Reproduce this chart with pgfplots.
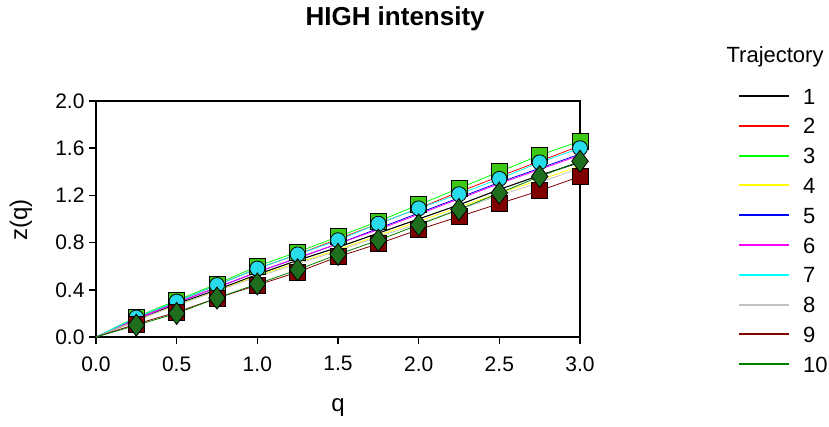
\documentclass[border=0pt]{standalone}
\usepackage{fontspec}
\setmainfont{Liberation Sans}
\usepackage{pgfplots}
\pgfplotsset{compat=1.18}
\definecolor{c1}{RGB}{0,0,0}
\definecolor{c2}{RGB}{255,0,0}
\definecolor{c3}{RGB}{0,255,0}
\definecolor{c4}{RGB}{255,255,0}
\definecolor{c5}{RGB}{0,0,255}
\definecolor{c6}{RGB}{255,0,255}
\definecolor{c7}{RGB}{0,255,255}
\definecolor{c8}{RGB}{192,192,192}
\definecolor{c9}{RGB}{128,0,0}
\definecolor{c10}{RGB}{0,128,0}
\definecolor{sqgreen}{RGB}{60,200,20}
\definecolor{dgreen}{RGB}{30,110,30}
\definecolor{circ}{RGB}{40,220,235}
\begin{document}
\begin{tikzpicture}[x=1pt,y=1pt]
\useasboundingbox (0,0) rectangle (829,-427);
\begin{axis}[
  at={(96pt,-337pt)}, anchor=south west,
  scale only axis, width=484pt, height=236pt,
  xmin=0, xmax=3, ymin=0, ymax=2,
  xtick={0,0.5,1,1.5,2,2.5,3},
  ytick={0,0.4,0.8,1.2,1.6,2.0},
  tick pos=left, tick align=outside, major tick length=7pt,
  axis line style={line width=1.5pt},
  every tick/.style={black, line width=1.5pt},
  tick label style={font=\fontsize{21}{21}\selectfont},
  xticklabel style={yshift=-9pt},
  yticklabel style={xshift=-1pt},
  /pgf/number format/.cd, fixed, fixed zerofill, precision=1, assume math mode=true, /pgfplots/.cd,
  clip=false,
  title={HIGH intensity},
  title style={at={(axis description cs:0.618,1.322)}, anchor=center, font=\fontsize{26}{26}\selectfont\bfseries},
  xlabel={q},
  xlabel style={at={(axis description cs:0.5,-0.30)}, anchor=center, font=\fontsize{24}{24}\selectfont},
  ylabel={z(q)},
  ylabel style={at={(axis description cs:-0.155,0.496)}, anchor=center, font=\fontsize{24}{24}\selectfont},
  legend style={at={(axis description cs:1.32,1.064)}, anchor=north west, draw=none, fill=none,
    font=\fontsize{22}{22}\selectfont, row sep=13.8pt, column sep=13pt,
    nodes={inner sep=0pt, text height=16pt, text depth=0pt}},
  legend cell align=left,
  legend image code/.code={\path[draw=none,fill=none] (0pt,-8pt) -- (0pt,8pt);\draw[#1, mark=none, line width=2pt] (0pt,0pt) -- (50pt,0pt);},
  every axis plot/.append style={line width=0.8pt},
]
\addplot[c1, line width=1.1pt] coordinates {(0,0)(0.25,0.14)(0.5,0.28)(0.75,0.40)(1,0.53)(1.25,0.65)(1.5,0.76)(1.75,0.88)(2,1.00)(2.25,1.12)(2.5,1.25)(2.75,1.37)(3,1.48)};
\addlegendentry{1}
\addplot[c2] coordinates {(0,0)(0.25,0.16)(0.5,0.30)(0.75,0.44)(1,0.58)(1.25,0.70)(1.5,0.83)(1.75,0.96)(2,1.09)(2.25,1.23)(2.5,1.36)(2.75,1.49)(3,1.62)};
\addlegendentry{2}
\addplot[c3, mark=square*, mark phase=2, mark repeat=1, mark size=8pt, mark options={fill=sqgreen, draw=black, line width=0.8pt}] coordinates {(0,0)(0.25,0.17)(0.5,0.31)(0.75,0.45)(1,0.60)(1.25,0.72)(1.5,0.85)(1.75,0.98)(2,1.12)(2.25,1.26)(2.5,1.40)(2.75,1.54)(3,1.66)};
\addlegendentry{3}
\addplot[c4] coordinates {(0,0)(0.25,0.14)(0.5,0.27)(0.75,0.39)(1,0.52)(1.25,0.63)(1.5,0.74)(1.75,0.86)(2,0.98)(2.25,1.10)(2.5,1.22)(2.75,1.33)(3,1.45)};
\addlegendentry{4}
\addplot[c5] coordinates {(0,0)(0.25,0.15)(0.5,0.29)(0.75,0.42)(1,0.55)(1.25,0.67)(1.5,0.79)(1.75,0.92)(2,1.05)(2.25,1.18)(2.5,1.31)(2.75,1.43)(3,1.55)};
\addlegendentry{5}
\addplot[c6] coordinates {(0,0)(0.25,0.15)(0.5,0.29)(0.75,0.42)(1,0.55)(1.25,0.67)(1.5,0.79)(1.75,0.91)(2,1.04)(2.25,1.17)(2.5,1.30)(2.75,1.42)(3,1.54)};
\addlegendentry{6}
\addplot[c7, mark=*, mark phase=2, mark repeat=1, mark size=7.5pt, mark options={fill=circ, draw=black, line width=0.8pt}] coordinates {(0,0)(0.25,0.165)(0.5,0.30)(0.75,0.44)(1,0.58)(1.25,0.70)(1.5,0.82)(1.75,0.96)(2,1.09)(2.25,1.21)(2.5,1.34)(2.75,1.48)(3,1.60)};
\addlegendentry{7}
\addplot[c8] coordinates {(0,0)(0.25,0.14)(0.5,0.27)(0.75,0.39)(1,0.51)(1.25,0.62)(1.5,0.73)(1.75,0.85)(2,0.96)(2.25,1.08)(2.5,1.20)(2.75,1.31)(3,1.43)};
\addlegendentry{8}
\addplot[c9, mark=square*, mark phase=2, mark repeat=1, mark size=8pt, mark options={fill=c9, draw=black, line width=0.8pt}] coordinates {(0,0)(0.25,0.11)(0.5,0.21)(0.75,0.33)(1,0.44)(1.25,0.55)(1.5,0.68)(1.75,0.79)(2,0.91)(2.25,1.02)(2.5,1.13)(2.75,1.24)(3,1.36)};
\addlegendentry{9}
\addplot[c10, mark=diamond*, mark phase=2, mark repeat=1, mark size=11pt, mark options={fill=dgreen, draw=black, line width=0.8pt}] coordinates {(0,0)(0.25,0.10)(0.5,0.20)(0.75,0.33)(1,0.45)(1.25,0.57)(1.5,0.70)(1.75,0.82)(2,0.95)(2.25,1.08)(2.5,1.22)(2.75,1.36)(3,1.49)};
\addlegendentry{10}
\node[font=\fontsize{22}{22}\selectfont] at (axis description cs:1.403,1.186) {Trajectory};
\end{axis}
\end{tikzpicture}
\end{document}
